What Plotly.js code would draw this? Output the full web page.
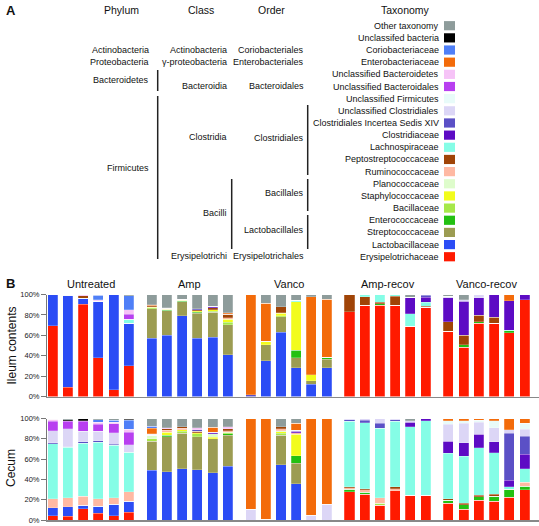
<!DOCTYPE html>
<html><head><meta charset="utf-8">
<script src="https://cdn.plot.ly/plotly-3.0.1.min.js"></script>
<style>html,body{margin:0;padding:0;background:#fff}#chart{width:539px;height:526px}</style>
</head><body><div id="chart"></div>
<script>
// ---------- DATA ----------
const groups = ["Untreated", "Amp", "Vanco", "Amp-recov", "Vanco-recov"];
const barsPerGroup = 6;
const yTickVals = [0, 20, 40, 60, 80, 100];
const yTickText = ["0%", "20%", "40%", "60%", "80%", "100%"];
// Legend order (top to bottom)
const taxa = ["Other taxonomy","Unclassifed bacteria","Coriobacteriaceae","Enterobacteriaceae",
  "Unclassified Bacteroidetes","Unclassified Bacteroidales","Unclassified Firmicutes",
  "Unclassified Clostridiales","Clostridiales Incertea Sedis XIV","Clostridiaceae",
  "Lachnospiraceae","Peptostreptococcaceae","Ruminococcaceae","Planococcaceae",
  "Staphylococcaceae","Bacillaceae","Enterococcaceae","Streptococcaceae",
  "Lactobacillaceae","Erysipelotrichaceae"];
const taxaColors = ["#8e9c9b","#000000","#4f7ff7","#f36b0a","#f6c3f7","#b83ff0","#e8fbf9",
  "#dcd6f6","#5b50c6","#5d0bc4","#85fde6","#a04407","#ffb9a3","#defccb",
  "#f2fc1c","#a6e84a","#23c012","#9c9c52","#2b4cf5","#ff1a00"];

// Ileum contents (% per bar; groups: Untreated, Amp, Vanco, Amp-recov, Vanco-recov)
const ileum_OTH  = [0,0.5,0,0.5,0,1, 10,12.9,4.5,14,11.4,18.1, 0,8.7,11.8,5.5,2,4.6, 0,0,0,0,2.9,0, 1.6,5.2,0,0,0,0];
const ileum_UBAC = [0,0,0,0,0,0, 0,0,0,0,0,0, 0,0,0,0,0,0, 0,0,0,0,0,0, 0,0,0,0,0,0];
const ileum_COR  = [0,0,0,4.5,0,13.8, 0.5,0,0,0,0,0, 0,0,0,0,0,0, 0,0,0,0,0,0, 0,0,0,0,0,0];
const ileum_ENT  = [0,0,0,0,0,0, 0.5,0,0,0,0,1, 98.5,37,0,0,76.5,57, 0,0,0,0,0,0, 0,0,0,0,5.9,0];
const ileum_UBE  = [0,0,1,1,0,4.6, 0,0.5,0,0,0,0, 0,0,0,0,0,0, 0,0,0,0,0,0, 0,0,0,0,0,0];
const ileum_UBA  = [0,0,0,0.7,0,5, 0,0,0,0,0,0, 0,0,0,0,0,0, 0,0,0,0,0,0, 0,0,0,0,0,0];
const ileum_UFI  = [0,0,0,0,0,0, 0,0,0,0,0,0, 0,0,0,0,0,0, 0,0,0,0,0,0, 0,0,0,0,0,0];
const ileum_UCL  = [0,0,0,0,0,0.5, 0,0,0,0,0,0.5, 0,0.5,0,0,0,0, 0,0,0,0,0.5,0.5, 1.6,1.3,3.1,0,0,0];
const ileum_CIS  = [0,0,0,0,0,0, 0,0,0,1,0,0, 1.5,0,0,0,0,0, 0,0,0,0,0,2, 0,0,0,0,0,0];
const ileum_CLO  = [0,0,0,0,0,0, 0,0,0,0,1.5,0, 0,0,0,0,0,0, 0,0,0,0,15.7,5.2, 23.4,33.5,17,22.3,28.9,5];
const ileum_LCH  = [0,0,0,0,0,3.3, 0,0,0,0,0,0, 0,0,0,1.6,0,0, 0,2,7.8,1.5,11.8,3.9, 0,0,0,0,0.6,0];
const ileum_PEP  = [0,0,2.6,0,0,0, 1,1,1,1,2,3, 0,0,6,0,0,0, 17,8.3,1.5,8.8,0,1, 9.2,9.2,6.5,5.9,0,0];
const ileum_RUM  = [0,0,0,0,0,0, 0.5,0,0,0,0,1.5, 0,0,0.4,0,0,0, 0,0,0,0,0,0, 0,0,0,0,0,0];
const ileum_PLA  = [0,0,0,0,0,0, 0,0,0,0,0,0, 0,0,0,0,0,0, 0,0,0,0,0,0, 0,0,0,0,0,0];
const ileum_STA  = [0,0,0,0,0,0, 0.7,0.5,0.5,1,1.3,3, 0,3.3,2.6,47.4,5.9,0, 0,0,0,0,0,0, 0,0,0,0,0,0];
const ileum_BAC  = [0,0,0,0,0,0, 0.8,0.5,0.5,0.5,1.3,2.5, 0,0,1,0,0,0, 0,0,0,0,0,0, 0,0,0,0,0,0];
const ileum_ENC  = [0,0,0,0,0,0, 0,0.5,0.5,1,0,0, 0,0,0,7.5,0,2, 0,0,1.3,0,0,0, 0,2.6,1.6,0,2,0];
const ileum_STR  = [0,0,0,0,0,0, 29,24.1,14,24.5,24.2,29.4, 0,15.5,15,9.8,3.6,8.2, 0,0,0,0,0,0, 0,0,0,0,0,0];
const ileum_LAC  = [30.5,90.5,6,55.3,93.6,41.8, 57,60,79,57,58.3,41, 0,35,63.2,28.2,12,28.2, 0,0,0,0,0,0, 0,0,0,0,0,0];
const ileum_ERY  = [69.5,9,90.4,38,6.4,30, 0,0,0,0,0,0, 0,0,0,0,0,0, 83,89.7,89.4,89.7,69.1,87.4, 64.2,48.2,71.8,71.8,62.6,95];

// Cecum
const cecum_OTH  = [0.9,1.1,0,1.3,1.5,0.7, 7.7,9,7.9,9.3,8.5,7.9, 0,0,8.1,4.9,0,0, 0,0,0,0,2,0, 0,0,0,0,0,0];
const cecum_UBAC = [0,1,2,0,0,0.8, 0,0,0,0,0,0, 0,0,0,0,0,0, 0,0,0,0,0,0, 0,0,0,0,0,0];
const cecum_COR  = [0,0,0,2.3,2.3,9.2, 2,0,0,0,0,0, 0,0,0,0,0,0, 0,0,0,0,0,0, 0,0,0,0,0,0];
const cecum_ENT  = [0,0,0,0,0,0, 5.2,0,0,0,4.9,0, 89.5,99.5,0,6.6,95.1,84.5, 0,0,0,0,0,0, 2.2,2.3,1.9,2.3,11.3,4.8];
const cecum_UBE  = [1.6,0.5,0.7,1.9,1.6,2.6, 0.7,1,0,2,0,2, 0,0,0,0,0,0, 0,0,0,0,0,0, 0,0,0,0,0,0];
const cecum_UBA  = [9.8,7.5,9.8,7.2,8.5,12.5, 0,0,0,0,0,0, 0,0,0,0,0,0, 0,0,0,0,0,0, 0,0,0,0,0,0];
const cecum_UFI  = [0,0,0,0,0,0, 0,0,0,0,0,0, 0,0,0,0,0,0, 0,0,0,0,0,0, 3.3,2.6,2,6.9,0,5.9];
const cecum_UCL  = [11.5,17.7,10.5,9.2,11.5,7.2, 1,0,0,0,0,0, 10.5,0,0,1.3,4.9,15.5, 1,1.6,4.7,1.3,1.8,0, 16.7,19,11.8,13.8,3.3,6.6];
const cecum_CIS  = [1.3,0.6,1.5,1.3,1,0, 0,0,0,1.3,0,0, 0,0,0,0,0,0, 1.6,2.6,4.9,1.3,0,0, 0,0,0,0,46,17.7];
const cecum_CLO  = [0,0,0,0,0,0, 0,0,0,0,1.6,0, 0,0,0,1,0,0, 0,0,0,0,4.3,2.3, 12.2,13.1,13.1,10.8,6.6,14.4];
const cecum_LCH  = [54.2,49.6,51.9,56.1,51.9,39.4, 0,0,0,0,0,0, 0,0,0,0,0,0, 64.6,65.2,68.3,64.5,67.6,73.4, 44.7,46.6,46.6,41,2.3,13.5];
const cecum_PEP  = [0,0,0,0,0,0, 0,1.6,1.6,1.3,0,2, 0,0.5,2,0,0,0, 1.1,1,0,2,0,0, 1.5,1.6,1.6,1.6,0,0];
const cecum_RUM  = [8.5,8.9,9.2,7.2,6.2,8.9, 0,1.7,1.6,0,0,1.5, 0,0,2,1.6,0,0, 1.2,2.5,5.6,2.3,0,0, 0,0,0,0,0,3.6];
const cecum_PLA  = [0,0,0,0,0,0, 3.3,0,0,0,3.3,0, 0,0,1,0,0,0, 0,0,0,0,0,0, 0,0,0,0,0,0];
const cecum_STA  = [0,0,0,0,0,0, 0,3.3,1.6,1,1.6,0, 0,0,1.5,21.3,0,0, 0,0,0,0,0,0, 0,0,0,0,0,0];
const cecum_BAC  = [0,0,0,0,0,0, 2.3,0,1.6,3.3,0,1.6, 0,0,2,0,0,0, 0,0,2,0,0,0, 0,0,0,0,0,0];
const cecum_ENC  = [0,0,0,0,0,0, 0,1.6,0,0,0,1.6, 0,0,0,7.5,0,0, 2.6,1.5,0,0,0,0, 3,4.3,3.3,4.9,8.2,3.9];
const cecum_STR  = [0,0,0,0,0,0, 28.8,34.5,35.2,32.2,33.5,30.5, 0,0,28.9,20,0,0, 0,0,0,0,0,0, 0,0,0,0,0,0];
const cecum_LAC  = [8.2,9.5,3.3,6.9,11.2,11.1, 49,47.3,50.5,49.6,46.6,52.9, 0,0,54.5,35.8,0,0, 0,0,0,0,0,0, 0,0,0,0,0,0];
const cecum_ERY  = [4,3.6,11.1,6.6,4.3,7.6, 0,0,0,0,0,0, 0,0,0,0,0,0, 27.9,25.6,14.5,28.6,24.3,24.3, 16.4,10.5,19.7,18.7,22.3,29.6];

// same order as taxa (legend, top to bottom)
const ileumSeries = [ileum_OTH,ileum_UBAC,ileum_COR,ileum_ENT,ileum_UBE,ileum_UBA,ileum_UFI,ileum_UCL,ileum_CIS,ileum_CLO,
  ileum_LCH,ileum_PEP,ileum_RUM,ileum_PLA,ileum_STA,ileum_BAC,ileum_ENC,ileum_STR,ileum_LAC,ileum_ERY];
const cecumSeries = [cecum_OTH,cecum_UBAC,cecum_COR,cecum_ENT,cecum_UBE,cecum_UBA,cecum_UFI,cecum_UCL,cecum_CIS,cecum_CLO,
  cecum_LCH,cecum_PEP,cecum_RUM,cecum_PLA,cecum_STA,cecum_BAC,cecum_ENC,cecum_STR,cecum_LAC,cecum_ERY];

// Taxonomy tree labels
const phylumLabels = [["Actinobacteria",50],["Proteobacteria",62],["Bacteroidetes",80],["Firmicutes",168]];
const classLabels  = [["Actinobacteria",50],["γ-proteobacteria",62],["Bacteroidia",86],["Clostridia",137],["Bacilli",213],["Erysipelotrichi",256]];
const orderLabels  = [["Coriobacteriales",50],["Enterobacteriales",62],["Bacteroidales",86],["Clostridiales",138],["Bacillales",193],["Lactobacillales",230],["Erysipelotrichales",256]];

// ---------- LAYOUT HELPERS ----------
const W = 539, H = 526;
const px = x => x / W;
const py = y => 1 - y / H;
const FONT = "Liberation Sans, Arial, sans-serif";

const xs = [];
for (let g = 0; g < groups.length; g++) for (let i = 0; i < barsPerGroup; i++) xs.push(g * 6.5 + i);

const traces = [];
// stack bottom to top: reverse legend order
for (let k = taxa.length - 1; k >= 0; k--) {
  [[ileumSeries, 'x', 'y'], [cecumSeries, 'x2', 'y2']].forEach(([ser, xa, ya]) => {
    traces.push({
      type: 'bar', x: xs, y: ser[k], xaxis: xa, yaxis: ya, name: taxa[k],
      width: 0.66, marker: {color: taxaColors[k], line: {color: 'rgba(255,255,255,0.55)', width: 0.4}},
      showlegend: false, hoverinfo: 'name+y'
    });
  });
}

const annotations = [];
const shapes = [];
function txt(t, x, y, size, anchor, extra) {
  annotations.push(Object.assign({xref:'paper', yref:'paper', x: px(x), y: py(y), text: t, showarrow:false,
    xanchor: anchor, yanchor:'middle', font:{family:FONT, size:size, color:'#111'}}, extra || {}));
}
// Panel A
txt('<b>A</b>', 11, 10, 13, 'center');
txt('Phylum', 121.7, 10, 10.5, 'center');
txt('Class', 201, 10, 10.5, 'center');
txt('Order', 271, 10, 10.5, 'center');
txt('Taxonomy', 405.5, 10, 10.5, 'center');
phylumLabels.forEach(([t,y]) => txt(t, 150.5, y, 9, 'right'));
classLabels.forEach(([t,y]) => txt(t, 229, y, 9, 'right'));
orderLabels.forEach(([t,y]) => txt(t, 305.5, y, 9, 'right'));
function vline(x, y0, y1) {
  shapes.push({type:'line', xref:'paper', yref:'paper', x0:px(x), x1:px(x), y0:py(y0), y1:py(y1), line:{color:'#222', width:1.5}});
}
vline(157.7, 70, 91);
vline(157.7, 96, 259);
vline(231.7, 179, 249);
vline(307.7, 105, 175);
vline(307.7, 179, 211);
vline(307.7, 215, 249);
taxa.forEach((t, k) => {
  const yc = 25.7 + k * 12.16;
  txt(t, 440.5, yc, 9, 'right');
  shapes.push({type:'rect', xref:'paper', yref:'paper', x0:px(444), x1:px(455), y0:py(yc+4.6), y1:py(yc-4.6),
    fillcolor: taxaColors[k], line:{width:0}});
});
// Panel B
txt('<b>B</b>', 10, 283, 13, 'center');
groups.forEach((g, gi) => {
  annotations.push({xref:'x', yref:'paper', x: gi*6.5 + 2.5, y: py(283.5), text: g, showarrow:false,
    xanchor:'center', yanchor:'middle', font:{family:FONT, size:11, color:'#111'}});
});
txt('Ileum contents', 11, 345.5, 12, 'center', {textangle:-90});
txt('Cecum', 11, 468, 12, 'center', {textangle:-90});

const yCommon = {range:[0,100], tickmode:'array', tickvals:yTickVals, ticktext:yTickText, ticks:'outside', ticklen:5,
  tickcolor:'#777', tickwidth:1, showline:true, linecolor:'#777', linewidth:1, showgrid:false, zeroline:false,
  tickfont:{family:FONT, size:7.5, color:'#222'}, fixedrange:true};
const xCommon = {range:[-0.375, 31.95], showticklabels:false, ticks:'', showgrid:false, zeroline:false,
  showline:true, linecolor:'#888', linewidth:1.5, domain:[px(47), 1], fixedrange:true};

const layout = {
  width: W, height: H, margin:{l:0, r:0, t:0, b:0}, paper_bgcolor:'#fff', plot_bgcolor:'#fff',
  barmode:'stack', bargap:0, showlegend:false,
  xaxis: Object.assign({}, xCommon, {anchor:'y'}),
  yaxis: Object.assign({}, yCommon, {domain:[py(396.5), py(294.5)], anchor:'x'}),
  xaxis2: Object.assign({}, xCommon, {anchor:'y2'}),
  yaxis2: Object.assign({}, yCommon, {domain:[py(520), py(418.5)], anchor:'x2'}),
  annotations: annotations, shapes: shapes,
  font:{family:FONT}
};
Plotly.newPlot('chart', traces, layout, {displayModeBar:false, staticPlot:true});
</script></body></html>
